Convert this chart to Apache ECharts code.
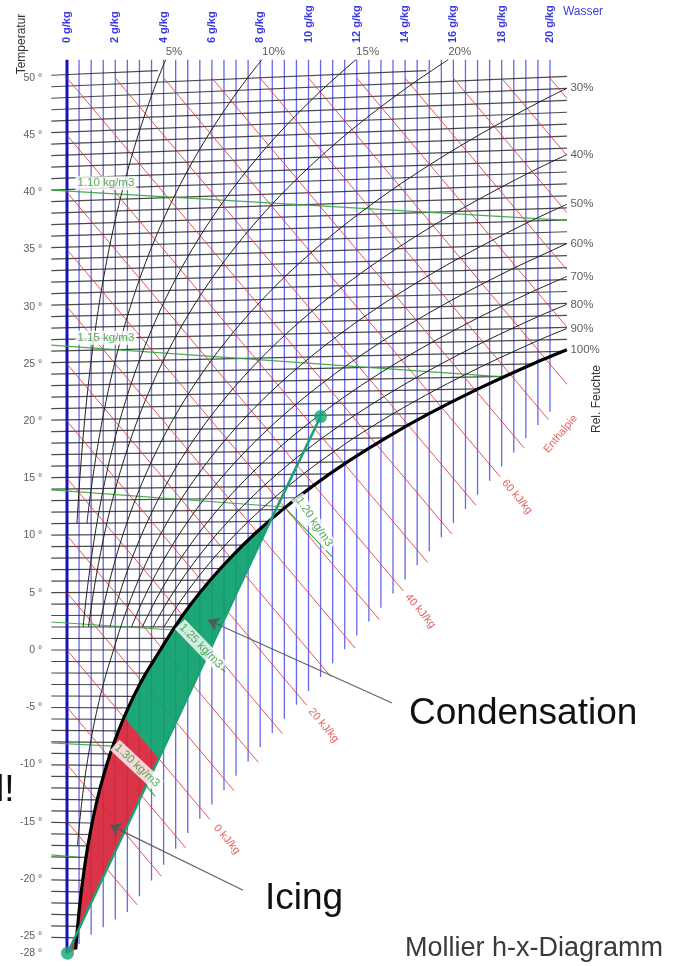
<!DOCTYPE html>
<html>
<head>
<meta charset="utf-8">
<script src="https://cdn.jsdelivr.net/npm/echarts/dist/echarts.min.js"></script>
<style>
  html, body { margin: 0; padding: 0; background: #fff; }
  #main { width: 675px; height: 966px; }
</style>
</head>
<body>
<div id="main"></div>
<script>
const FONT = '"Liberation Sans", Arial, sans-serif';
const P_AIR = 990; // hPa

// saturation vapour pressure table (hPa), ice below 0 °C
const satTemps = [-28, -26, -24, -22, -20, -18, -16, -14, -12, -10, -8, -6, -4, -2, 0,
  2, 4, 6, 8, 10, 12, 14, 16, 18, 20, 22, 24, 26, 28, 30, 32, 34, 36, 38, 40, 42, 44, 46, 48, 50, 52];
const satPress = [0.467, 0.573, 0.699, 0.851, 1.033, 1.249, 1.507, 1.812, 2.173, 2.599, 3.100, 3.687, 4.375, 5.177, 6.112,
  7.057, 8.129, 9.343, 10.714, 12.260, 14.000, 15.953, 18.142, 20.591, 23.326, 26.375, 29.766, 33.534, 37.713, 42.336,
  47.449, 53.094, 59.314, 66.156, 73.680, 81.927, 90.967, 100.858, 111.667, 123.456, 136.304];

// relative humidity curves and the temperature where each one starts
const rhLevels = [5, 10, 15, 20, 30, 40, 50, 60, 70, 80, 90, 100];
const rhStart = [11, 11, 2, 2, 2, 2, -17, 2, 2, 2, 2, -26];

// enthalpy lines (kJ/kg) and the labelled ones
const enthalpyLevels = [-15, -10, -5, 0, 5, 10, 15, 20, 25, 30, 35, 40, 45, 50, 55, 60, 65, 70, 75, 80, 85, 90, 95, 100];
const enthalpyLabels = [0, 20, 40, 60];

// water content lines (g/kg)
const waterLines = [0.5, 1, 1.5, 2, 2.5, 3, 3.5, 4, 4.5, 5, 5.5, 6, 6.5, 7, 7.5, 8, 8.5, 9, 9.5, 10,
  10.5, 11, 11.5, 12, 12.5, 13, 13.5, 14, 14.5, 15, 15.5, 16, 16.5, 17, 17.5, 18, 18.5, 19, 19.5, 20];
const waterTicks = [0, 2, 4, 6, 8, 10, 12, 14, 16, 18, 20];
// lower end of the water lines in the fog region
const fogEdgeX = [0, 1, 2.5, 5, 9, 13, 19, 20.5];
const fogEdgeY = [-26.5, -24.9, -22.9, -16, -6, 3.7, 18.5, 22];

// isotherms (°C) and the temperature tick labels
const isotherms = [];
for (let t = -25; t <= 50; t++) isotherms.push(t);
const tempTicks = [50, 45, 40, 35, 30, 25, 20, 15, 10, 5, 0, -5, -10, -15, -20, -25];
const tempExtraLabel = '-28';

// density lines (x g/kg, vertical value)
const densityNames = ['1.10 kg/m3', '1.15 kg/m3', '1.20 kg/m3', '1.25 kg/m3', '1.30 kg/m3'];
const densityLines = [
  [[-0.65, 40.2], [20.7, 37.55]],
  [[-0.65, 26.65], [18.2, 23.85]],
  [[-0.65, 14.0], [9.0, 12.5], [11.0, 8.1]],
  [[-0.65, 2.45], [4.4, 1.75], [6.55, -1.9]],
  [[-0.65, -8.13], [1.9, -8.4], [3.65, -12.8]],
  [[-0.65, -17.9], [0.4, -18.1]]
];
const densityLabelAt = [[1.61, 40.8], [1.61, 27.3], [10.23, 11.2], [5.55, 0.35], [2.9, -10.1]];
const densityLabelRot = [0, 0, -56, -46, -43];

// process: start state -> dew point -> end point
const processX = [10.5, 8.45, 0.02];
const processY = [20.4, 11.4, -26.5];

const X_MAX = 20.7, TOP_Y = 51.6, ISO_TOP = 50.65, H_TOP = 50;

function interp(xs, ys, x) {
  if (x <= xs[0]) return ys[0];
  for (let i = 1; i < xs.length; i++) {
    if (x <= xs[i]) {
      const f = (x - xs[i - 1]) / (xs[i] - xs[i - 1]);
      return ys[i - 1] + f * (ys[i] - ys[i - 1]);
    }
  }
  return ys[ys.length - 1];
}
function psat(t) {
  for (let i = 1; i < satTemps.length; i++) {
    if (t <= satTemps[i]) {
      const f = (t - satTemps[i - 1]) / (satTemps[i] - satTemps[i - 1]);
      return Math.exp(Math.log(satPress[i - 1]) * (1 - f) + Math.log(satPress[i]) * f);
    }
  }
  return satPress[satPress.length - 1];
}
// state (rel. humidity, temperature) -> chart coordinates
function toChart(phi, t) {
  const pv = phi / 100 * psat(t);
  const x = 622 * pv / (P_AIR - pv);
  return [x, 1.006 * t + 0.00186 * t * x];
}
function clipCurve(pts) {
  const out = [pts[0]];
  for (let i = 1; i < pts.length; i++) {
    const a = pts[i - 1], b = pts[i];
    if (b[0] <= X_MAX && b[1] <= TOP_Y) { out.push(b); continue; }
    let f = 1;
    if (b[0] > X_MAX) f = Math.min(f, (X_MAX - a[0]) / (b[0] - a[0]));
    if (b[1] > TOP_Y) f = Math.min(f, (TOP_Y - a[1]) / (b[1] - a[1]));
    out.push([a[0] + f * (b[0] - a[0]), a[1] + f * (b[1] - a[1])]);
    break;
  }
  return out;
}
function clipHalf(poly, fn) {
  const out = [];
  for (let i = 0; i < poly.length; i++) {
    const a = poly[i], b = poly[(i + 1) % poly.length];
    const fa = fn(a), fb = fn(b);
    if (fa >= 0) out.push(a);
    if ((fa >= 0) !== (fb >= 0)) {
      const f = fa / (fa - fb);
      out.push([a[0] + f * (b[0] - a[0]), a[1] + f * (b[1] - a[1])]);
    }
  }
  return out;
}
const enthalpy = p => p[1] + 2.501 * p[0];

function linesSeries(coordsList, color, width, z, opacity) {
  return {
    type: 'lines', coordinateSystem: 'cartesian2d', polyline: true, silent: true, z: z,
    lineStyle: { color: color, width: width, opacity: opacity == null ? 1 : opacity },
    data: coordsList.map(c => ({ coords: c }))
  };
}
function labelSeries(items, base, z) {
  return {
    type: 'scatter', silent: true, z: z, symbolSize: 1, itemStyle: { color: 'rgba(0,0,0,0)' },
    label: Object.assign({ show: true, formatter: p => p.name, fontFamily: FONT }, base),
    data: items.map(it => ({ value: it.value, name: it.text, label: it.label || {} }))
  };
}
function polySeries(pts, color, z) {
  return {
    type: 'custom', silent: true, z: z, clip: false, data: [[0, 0]],
    renderItem: (params, api) => ({
      type: 'polygon',
      shape: { points: pts.map(p => api.coord(p)) },
      style: { fill: color, opacity: 0.93 }
    })
  };
}

const series = [];

// water content lines
series.push(linesSeries(waterLines.map(x => [[x, TOP_Y], [x, interp(fogEdgeX, fogEdgeY, x)]]), '#5252e6', 1.3, 1, 0.88));
series.push(linesSeries([[[0, TOP_Y], [0, processY[2]]]], '#1414c4', 3, 2));

// isotherms
series.push(linesSeries(isotherms.map(t => {
  let xe = Math.min(toChart(100, t)[0], X_MAX);
  const yAt = x => 1.006 * t + 0.00186 * t * x;
  if (yAt(xe) > ISO_TOP) xe = (ISO_TOP - 1.006 * t) / (0.00186 * t);
  return [[-0.65, yAt(-0.65)], [xe, yAt(xe)]];
}), '#1e1e1e', 1.2, 2, 0.8));

// enthalpy lines
const hEnd = h => Math.min((h + 29.55) / 4.9927, X_MAX);
series.push(linesSeries(enthalpyLevels.map(h => {
  const x0 = h > H_TOP ? (h - H_TOP) / 2.501 : 0;
  const x1 = hEnd(h);
  return [[x0, h - 2.501 * x0], [x1, h - 2.501 * x1]];
}), '#e03a3a', 1, 2, 0.85));

// density lines
series.push(linesSeries(densityLines, '#36a336', 1.2, 3, 0.9));

// relative humidity curves
const rhCurves = rhLevels.map((phi, i) => {
  const temps = [rhStart[i]].concat(satTemps.filter(t => t > rhStart[i]));
  return clipCurve(temps.map(t => toChart(phi, t)));
});
rhCurves.forEach((pts, i) => {
  const sat = rhLevels[i] === 100;
  series.push({
    type: 'line', data: pts, smooth: 0.3, symbol: 'none', silent: true, z: sat ? 6 : 3,
    lineStyle: { color: sat ? '#000' : '#222', width: sat ? 3.2 : 1 }
  });
});

// condensation / icing area between saturation curve and the chord to the end point
const B = [processX[1], processY[1]], C = [processX[2], processY[2]];
const area = [C].concat(rhCurves[rhCurves.length - 1].filter(p => p[1] < B[1])).concat([B]);
series.push(polySeries(clipHalf(area, enthalpy), '#0c9f6c', 5));
series.push(polySeries(clipHalf(area, p => -enthalpy(p)), '#d6253a', 5));

// process line and points
series.push({
  type: 'line', data: processX.map((x, i) => [x, processY[i]]), symbol: 'none', silent: true, z: 7,
  lineStyle: { color: '#1aa275', width: 2.5 }
});
series.push({
  type: 'scatter', data: [[processX[0], processY[0]], [processX[2], processY[2]]], symbolSize: 13, silent: true, z: 8,
  itemStyle: { color: '#14a673' }
});

// arrows for the annotations
series.push({
  type: 'lines', coordinateSystem: 'cartesian2d', silent: true, z: 9,
  symbol: ['none', 'arrow'], symbolSize: 11,
  lineStyle: { color: '#555', width: 1.3, opacity: 0.9 },
  data: [
    { coords: [[13.46, -4.63], [5.84, 2.62]] },
    { coords: [[7.29, -21.0], [1.78, -15.3]] }
  ]
});

// temperature tick labels
series.push(labelSeries(tempTicks.map(t => ({ value: [-0.92, t], text: t + ' °' }))
  .concat([{ value: [-0.92, processY[2]], text: tempExtraLabel + ' °' }]),
  { color: '#333', fontSize: 10.5, position: 'left', distance: 2 }, 10));

// rel. humidity labels
series.push(labelSeries(rhCurves.map((pts, i) => {
  const end = pts[pts.length - 1];
  const right = end[0] >= X_MAX - 0.01;
  return {
    value: end, text: rhLevels[i] + '%',
    label: right ? { position: 'right', distance: 3 } : { position: 'top', align: 'left', distance: 1 }
  };
}), { color: '#333', fontSize: 11.5 }, 10));

// enthalpy labels
series.push(labelSeries(enthalpyLabels.map(h => {
  const x = hEnd(h) + 0.7;
  return { value: [x, h - 2.501 * x], text: h + ' kJ/kg' };
}), { color: '#e03a3a', fontSize: 11, rotate: -50, position: 'inside' }, 10));
series.push(labelSeries([{ value: [hEnd(70) + 0.5, 70 - 2.501 * (hEnd(70) + 0.5)], text: 'Enthalpie' }],
  { color: '#e03a3a', fontSize: 11, rotate: 50, position: 'inside' }, 10));

// density labels
series.push(labelSeries(densityLabelAt.map((p, i) => ({
  value: p, text: densityNames[i], label: { rotate: densityLabelRot[i] }
})), { color: '#2d962d', fontSize: 11.5, position: 'inside', backgroundColor: '#fff', padding: [1, 2] }, 11));

const chart = echarts.init(document.getElementById('main'));
chart.setOption({
  animation: false,
  backgroundColor: '#fff',
  grid: { left: 18.7, top: 55.1, width: 579.6, height: 903.8 },
  xAxis: {
    type: 'value', position: 'top', min: -2, max: 22, interval: 2, offset: 10,
    axisLine: { show: false }, axisTick: { show: false }, splitLine: { show: false },
    axisLabel: {
      rotate: 90, margin: 2, color: '#3b3bdc', fontSize: 11, fontWeight: 'bold', fontFamily: FONT,
      formatter: v => waterTicks.indexOf(v) >= 0 ? v + ' g/kg' : ''
    }
  },
  yAxis: { type: 'value', min: -27, max: 52, show: false },
  graphic: [
    { type: 'text', x: 22, y: 44, rotation: Math.PI / 2, z: 20,
      style: { text: 'Temperatur', fontSize: 12, fontFamily: FONT, fill: '#333', align: 'center', verticalAlign: 'middle' } },
    { type: 'text', x: 583, y: 12, z: 20,
      style: { text: 'Wasser', fontSize: 12, fontFamily: FONT, fill: '#4040dc', align: 'center', verticalAlign: 'middle' } },
    { type: 'text', x: 597, y: 399, rotation: Math.PI / 2, z: 20,
      style: { text: 'Rel. Feuchte', fontSize: 12, fontFamily: FONT, fill: '#333', align: 'center', verticalAlign: 'middle' } },
    { type: 'text', x: 409, y: 714, z: 20,
      style: { text: 'Condensation', fontSize: 37, fontFamily: FONT, fill: '#111', align: 'left', verticalAlign: 'middle' } },
    { type: 'text', x: 265, y: 899, z: 20,
      style: { text: 'Icing', fontSize: 37, fontFamily: FONT, fill: '#111', align: 'left', verticalAlign: 'middle' } },
    { type: 'text', x: -4, y: 791, z: 20,
      style: { text: 'l!', fontSize: 37, fontFamily: FONT, fill: '#111', align: 'left', verticalAlign: 'middle' } },
    { type: 'text', x: 405, y: 949, z: 20,
      style: { text: 'Mollier h-x-Diagramm', fontSize: 27, fontFamily: FONT, fill: '#3a3a3a', align: 'left', verticalAlign: 'middle' } }
  ],
  series: series
});
</script>
</body>
</html>
